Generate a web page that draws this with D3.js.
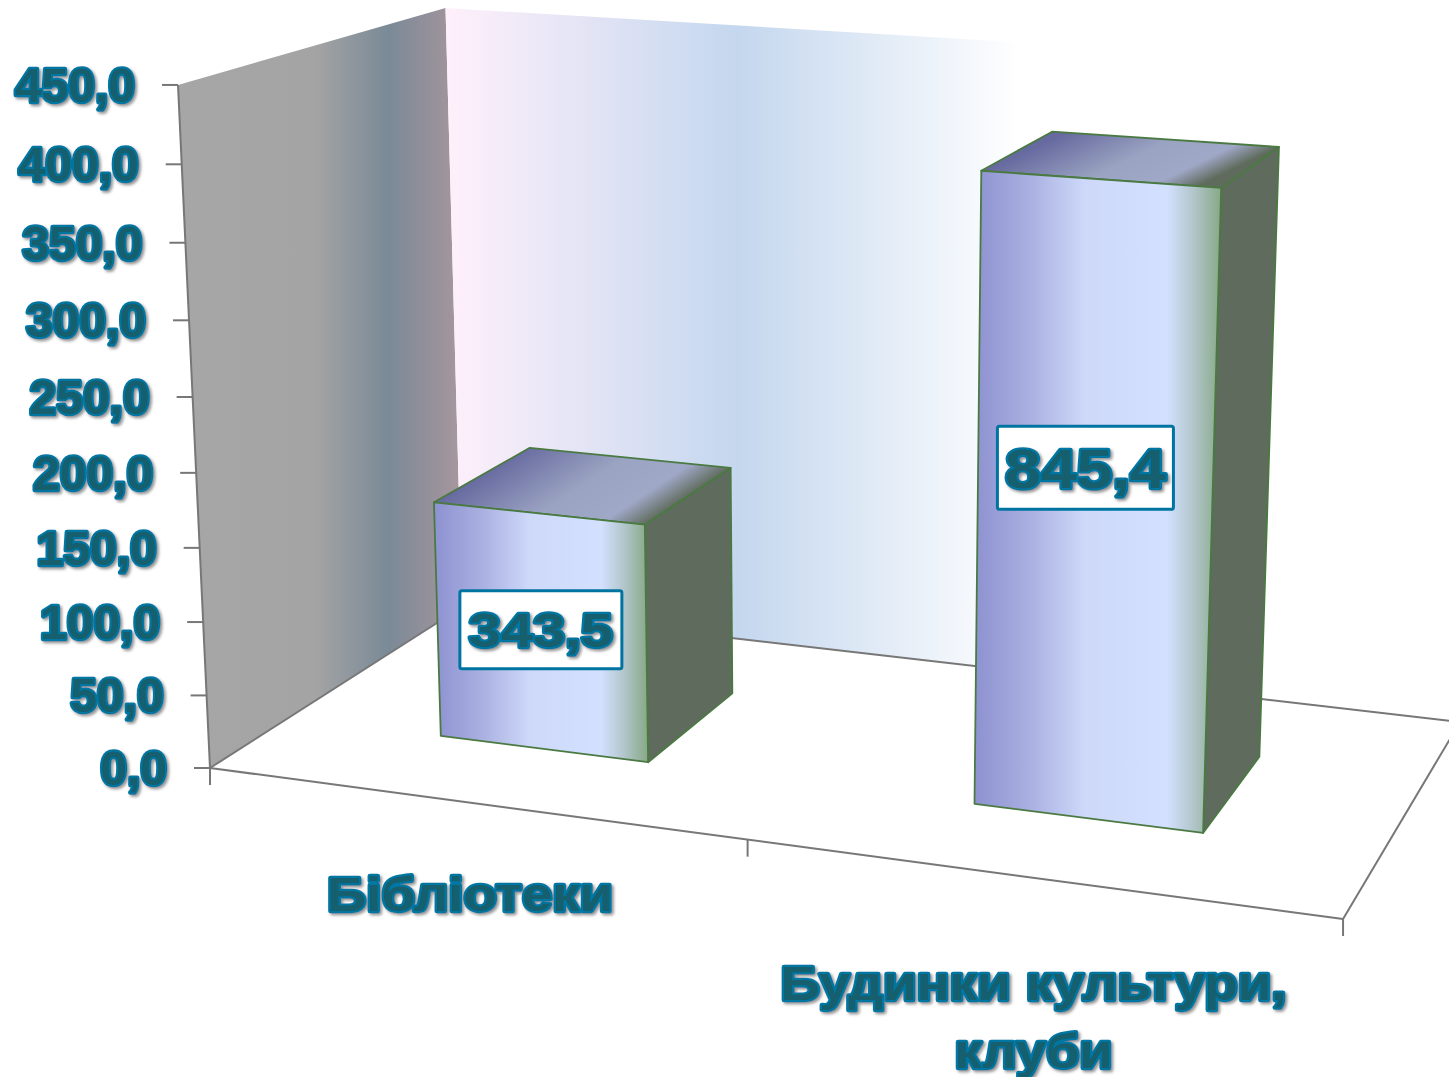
<!DOCTYPE html>
<html>
<head>
<meta charset="utf-8">
<script src="https://d3js.org/d3.v7.min.js"></script>
<style>
  body { margin: 0; background: #fff; }
  text { font-family: "Liberation Sans", sans-serif; font-weight: bold; fill: #125e6e; stroke: #0076a2; stroke-width: 4.4px; stroke-linejoin: round; paint-order: stroke; filter: url(#shadow); }
</style>
</head>
<body>
<div id="chart"></div>
<script>
// data
var categories = ["Бібліотеки", "Будинки культури, клуби"];
var categoryLines = [["Бібліотеки"], ["Будинки культури,", "клуби"]];
var barValues = [163, 411];          // height read against the axis
var barLabels = ["343,5", "845,4"];  // what the boxes say
var yTicks = [0, 50, 100, 150, 200, 250, 300, 350, 400, 450];

var svgWidth = 1449;
var svgHeight = 1077;

var svg = d3.select("#chart")
  .append("svg")
  .attr("width", svgWidth)
  .attr("height", svgHeight)
  .style("display", "block");

// scales go to the unit box of the 3D chart
var xScale = d3.scaleBand().domain(categories).range([0, 1]).paddingInner(0.6).paddingOuter(0.3);
var yScale = d3.scaleLinear().domain([0, 450]).range([0, 1]);
var barFront = 0.29;
var barBack = 0.69;

// camera: (u along categories, v up, w into the page) -> screen
function project(u, v, w) {
  var px = 1002.6 * u - 40.7 * v + 319.76 * w + 210;
  var py = 61.74 * u - 687.2 * v - 71.98 * w + 768;
  var pw = -0.09713 * u - 0.0489 * v + 0.14666 * w + 1;
  return [px / pw, py / pw];
}

function quad(points) {
  return "M" + points.map(function(p) { return project(p[0], p[1], p[2]).join(","); }).join("L") + "Z";
}

// gradients
var defs = svg.append("defs");

function gradient(id, stops, x2, y2) {
  var g = defs.append("linearGradient").attr("id", id)
    .attr("x1", 0).attr("y1", 0).attr("x2", x2).attr("y2", y2);
  stops.forEach(function(s) {
    g.append("stop").attr("offset", s[0]).attr("stop-color", s[1]);
  });
}

gradient("leftWall", [[0, "#a6a6a6"], [0.48, "#a4a4a4"], [0.74, "#7a8a97"], [0.92, "#9a929b"], [1, "#a8989f"]], 1, 0);
gradient("backWall", [[0, "#fff0fb"], [0.28, "#c4d7ee"], [0.55, "#ffffff"], [1, "#ffffff"]], 1, 0);
gradient("barFront", [[0, "#8d92d1"], [0.22, "#a9afe0"], [0.45, "#ced9fa"], [0.78, "#d3e0ff"], [0.88, "#b4c8cf"], [1, "#87a886"]], 1, 0);
gradient("barTop", [[0.25, "#666a9f"], [0.6, "#9ba3c2"], [0.82, "#a0a8c8"], [0.96, "#5f6b5c"]], 1, 0.39);

var shadow = defs.append("filter").attr("id", "shadow")
  .attr("x", "-10%").attr("y", "-20%").attr("width", "120%").attr("height", "140%");
shadow.append("feDropShadow")
  .attr("dx", 2).attr("dy", 2).attr("stdDeviation", 1.5)
  .attr("flood-color", "#777").attr("flood-opacity", 0.8);

// walls
svg.append("path")
  .attr("d", quad([[0, 0, 0], [0, 1, 0], [0, 1, 1], [0, 0, 1]]))
  .attr("fill", "url(#leftWall)");
svg.append("path")
  .attr("d", quad([[0, 0, 1], [0, 1, 1], [1, 1, 1], [1, 0, 1]]))
  .attr("fill", "url(#backWall)");

// floor outline and wall edges
var lineColor = "#777";
var edges = [
  [[0, 0, 0], [1, 0, 0]],
  [[1, 0, 0], [1, 0, 1]],
  [[0, 0, 1], [1, 0, 1]],
  [[0, 0, 0], [0, 0, 1]],
  [[0, 0, 0], [0, 1, 0]]
];
svg.selectAll(".edge")
  .data(edges)
  .enter()
  .append("path")
  .attr("class", "edge")
  .attr("d", function(d) { return "M" + project(d[0][0], d[0][1], d[0][2]) + "L" + project(d[1][0], d[1][1], d[1][2]); })
  .attr("stroke", lineColor)
  .attr("stroke-width", 2)
  .attr("fill", "none");

// value axis ticks and labels
yTicks.forEach(function(t) {
  var p = project(0, yScale(t), 0);
  svg.append("line")
    .attr("x1", p[0] - 16).attr("x2", p[0])
    .attr("y1", p[1]).attr("y2", p[1])
    .attr("stroke", lineColor).attr("stroke-width", 2);
  svg.append("text")
    .attr("x", p[0] - 43)
    .attr("y", p[1] + 17)
    .attr("text-anchor", "end")
    .attr("font-size", 48)
    .text(t.toFixed(1).replace(".", ","));
});

// category axis ticks, at the edges of each category
[0, 0.5, 1].forEach(function(u) {
  var p = project(u, 0, 0);
  svg.append("line")
    .attr("x1", p[0]).attr("x2", p[0])
    .attr("y1", p[1]).attr("y2", p[1] + 17)
    .attr("stroke", lineColor).attr("stroke-width", 2);
});

// bars
var barStroke = "#4a7a42";
categories.forEach(function(c, i) {
  var u0 = xScale(c);
  var u1 = u0 + xScale.bandwidth();
  var v = yScale(barValues[i]);
  var faces = [
    { fill: "#5f6b5c", pts: [[u1, 0, barFront], [u1, v, barFront], [u1, v, barBack], [u1, 0, barBack]] },
    { fill: "url(#barTop)", pts: [[u0, v, barFront], [u0, v, barBack], [u1, v, barBack], [u1, v, barFront]] },
    { fill: "url(#barFront)", pts: [[u0, 0, barFront], [u0, v, barFront], [u1, v, barFront], [u1, 0, barFront]] }
  ];
  faces.forEach(function(f) {
    svg.append("path")
      .attr("d", quad(f.pts))
      .attr("fill", f.fill)
      .attr("stroke", barStroke)
      .attr("stroke-width", 1.8)
      .attr("stroke-linejoin", "round");
  });
});

// value boxes on the front faces
var labelHeight = [0.51, 0.56];
var labelDx = [0, -9];
var boxW = [162, 176];
var boxH = [78, 83];
var labelSize = [49, 56];
var labelW = [144, 161];

categories.forEach(function(c, i) {
  var p = project(xScale(c) + xScale.bandwidth() / 2, yScale(barValues[i]) * labelHeight[i], barFront);
  var cx = p[0] + labelDx[i];
  svg.append("rect")
    .attr("x", cx - boxW[i] / 2)
    .attr("y", p[1] - boxH[i] / 2)
    .attr("width", boxW[i])
    .attr("height", boxH[i])
    .attr("rx", 2)
    .attr("fill", "#fff")
    .attr("stroke", "#0074a0")
    .attr("stroke-width", 3);
  svg.append("text")
    .attr("x", cx)
    .attr("y", p[1] + labelSize[i] * 0.36)
    .attr("text-anchor", "middle")
    .attr("font-size", labelSize[i])
    .attr("textLength", labelW[i])
    .attr("lengthAdjust", "spacingAndGlyphs")
    .text(barLabels[i]);
});

// category labels
var catDy = [108, 122];
var catDx = [-2, -4];
var catW = [[286], [506, 158]];
var lineStep = 68;

categories.forEach(function(c, i) {
  var p = project(xScale(c) + xScale.bandwidth() / 2, 0, 0);
  categoryLines[i].forEach(function(line, j) {
    svg.append("text")
      .attr("x", p[0] + catDx[i])
      .attr("y", p[1] + catDy[i] + j * lineStep)
      .attr("text-anchor", "middle")
      .attr("font-size", 48)
      .attr("textLength", catW[i][j])
      .attr("lengthAdjust", "spacingAndGlyphs")
      .text(line);
  });
});
</script>
</body>
</html>
